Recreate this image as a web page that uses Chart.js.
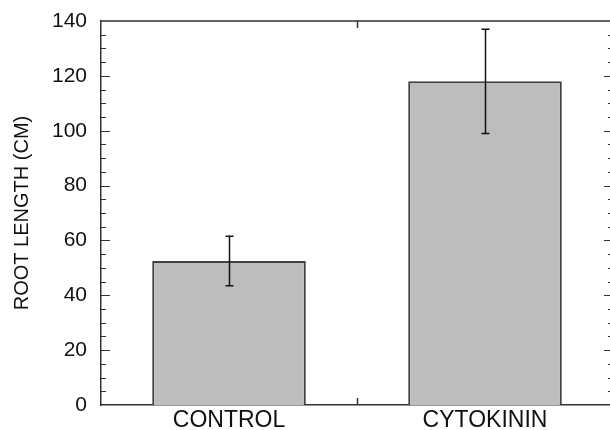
<!DOCTYPE html>
<html>
<head>
<meta charset="utf-8">
<script src="https://cdn.jsdelivr.net/npm/chart.js@4.4.0/dist/chart.umd.min.js"></script>
<style>
  html, body { margin: 0; padding: 0; background: #fff; }
  #wrap { width: 610px; height: 430px; overflow: hidden; position: relative; }
  canvas { display: block; }
</style>
</head>
<body>
<div id="wrap">
  <canvas id="myChart" width="620" height="430"></canvas>
</div>
<script>
// data
var categories = ["CONTROL", "CYTOKININ"];
var rootLength = [52.5, 118];
var rootError = [9, 19];
var yTickLabels = [0, 20, 40, 60, 80, 100, 120, 140];

var FONT = "'Liberation Sans', Arial, Helvetica, sans-serif";
var INK = "#111";
var LINE = "#333";

// top frame, inward ticks, middle category ticks and error bars
var framePlugin = {
    id: 'frame',
    afterDatasetsDraw: function(chart) {
        var ctx = chart.ctx;
        var a = chart.chartArea;
        var y = chart.scales.y;
        var x = chart.scales.x;
        ctx.save();
        ctx.strokeStyle = LINE;
        ctx.lineWidth = 1.5;
        ctx.beginPath();
        ctx.moveTo(a.left, a.top);
        ctx.lineTo(a.right, a.top);
        ctx.lineTo(a.right, a.bottom);
        ctx.stroke();

        // inward ticks on both y sides
        ctx.lineWidth = 1.2;
        y.ticks.forEach(function(t) {
            if (t.value === 0 || t.value === 140) return;
            var py = Math.round(y.getPixelForValue(t.value)) + 0.5;
            var len = (t.value % 20 === 0) ? 9 : 5;
            ctx.beginPath();
            ctx.moveTo(a.left, py);
            ctx.lineTo(a.left + len, py);
            ctx.moveTo(a.right, py);
            ctx.lineTo(a.right - len, py);
            ctx.stroke();
        });

        // tick between the two categories, top and bottom
        var mx = Math.round((x.getPixelForTick(0) + x.getPixelForTick(1)) / 2) + 0.5;
        ctx.lineWidth = 1.5;
        ctx.beginPath();
        ctx.moveTo(mx, a.top);
        ctx.lineTo(mx, a.top + 7);
        ctx.moveTo(mx, a.bottom);
        ctx.lineTo(mx, a.bottom - 7);
        ctx.stroke();

        // error bars
        ctx.strokeStyle = "#111";
        ctx.lineWidth = 1.5;
        rootLength.forEach(function(v, i) {
            var cx = Math.round(x.getPixelForValue(i)) + 0.5;
            var hi = y.getPixelForValue(v + rootError[i]);
            var lo = y.getPixelForValue(v - rootError[i]);
            ctx.beginPath();
            ctx.moveTo(cx, hi);
            ctx.lineTo(cx, lo);
            ctx.moveTo(cx - 4, hi);
            ctx.lineTo(cx + 4, hi);
            ctx.moveTo(cx - 4, lo);
            ctx.lineTo(cx + 4, lo);
            ctx.stroke();
        });
        ctx.restore();
    }
};

var ctx = document.getElementById("myChart");
var myBarChart = new Chart(ctx, {
    type: 'bar',
    data: {
        labels: categories,
        datasets: [{
            data: rootLength,
            backgroundColor: "#bdbdbd",
            borderColor: "#404040",
            borderWidth: 2,
            barPercentage: 0.6,
            categoryPercentage: 1.0
        }]
    },
    plugins: [framePlugin],
    options: {
        responsive: false,
        animation: false,
        layout: { padding: { top: 21, right: 7, bottom: 0, left: 0 } },
        plugins: {
            legend: { display: false },
            tooltip: { enabled: false }
        },
        scales: {
            x: {
                grid: { display: false, drawTicks: false },
                border: { display: true, color: LINE, width: 1.5 },
                ticks: {
                    color: INK,
                    padding: 2,
                    font: { family: FONT, size: 23 }
                },
                afterFit: function(s) {
                    s.height = 25;
                    s.paddingLeft = 0;
                    s.paddingRight = 0;
                }
            },
            y: {
                min: 0,
                max: 140,
                grid: { display: false, drawTicks: false },
                border: { display: true, color: LINE, width: 1.5 },
                ticks: {
                    stepSize: 5,
                    autoSkip: false,
                    color: INK,
                    padding: 14,
                    font: { family: FONT, size: 21 },
                    callback: function(v) {
                        return yTickLabels.indexOf(v) >= 0 ? String(v) : '';
                    }
                },
                title: {
                    display: true,
                    text: "ROOT LENGTH (CM)",
                    color: INK,
                    font: { family: FONT, size: 20 },
                    padding: { top: 10, bottom: 0 }
                },
                afterFit: function(s) {
                    s.width = 101;
                    s.paddingTop = 0;
                    s.paddingBottom = 0;
                }
            }
        }
    }
});
</script>
</body>
</html>
